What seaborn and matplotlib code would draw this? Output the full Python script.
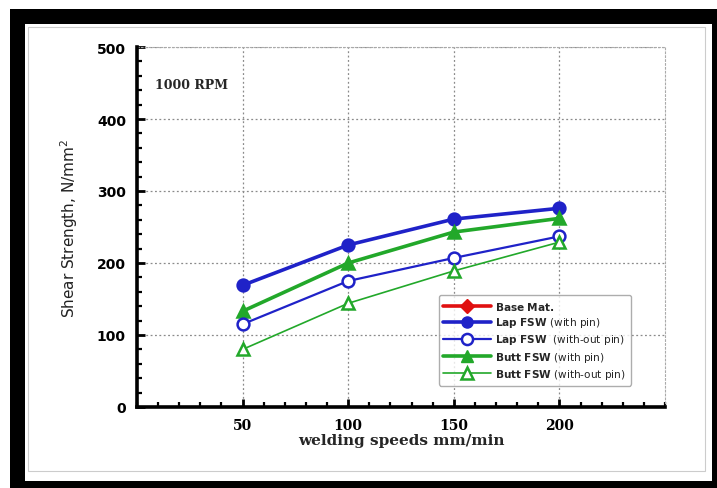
import matplotlib
matplotlib.use("Agg")
import matplotlib.pyplot as plt
from matplotlib.patches import Rectangle
from matplotlib.lines import Line2D
from matplotlib.ticker import MultipleLocator
import seaborn as sns
import pandas as pd

speeds = [50, 100, 150, 200]
lap_with_pin = [169, 225, 261, 276]
lap_without_pin = [115, 175, 207, 237]
butt_with_pin = [133, 200, 243, 262]
butt_without_pin = [80, 144, 189, 229]
x_ticks = [50, 100, 150, 200]
y_ticks = [0, 100, 200, 300, 400, 500]

sns.set_theme(style="white")
plt.rcParams['font.family'] = ['DejaVu Sans']

fig = plt.figure(figsize=(7.17, 4.89), dpi=100)
fig.patch.set_facecolor("white")
W, H = 717, 489
# black picture frame
fig.add_artist(Rectangle((10 / W, 0), 1 - 10 / W, 1 - 10 / H, transform=fig.transFigure,
                         facecolor="black", edgecolor="none", zorder=-5))
fig.add_artist(Rectangle((25 / W, 7 / H), (712 - 25) / W, (482 - 25) / H, transform=fig.transFigure,
                         facecolor="white", edgecolor="none", zorder=-4))
fig.add_artist(Rectangle((28 / W, 17 / H), (705 - 28) / W, (472 - 28) / H, transform=fig.transFigure,
                         facecolor="none", edgecolor="#cccccc", lw=0.8, zorder=-3))

ax = fig.add_axes([137 / W, 1 - 408 / H, (665 - 137) / W, (408 - 48) / H])
ax.set_facecolor("white")

blue = "#1f22c8"
green = "#22a82a"

series = [
    (lap_with_pin, blue, "o", blue, 2.6, 8.5),
    (butt_with_pin, green, "^", green, 2.6, 8.5),
    (lap_without_pin, blue, "o", "white", 1.6, 8.5),
    (butt_without_pin, green, "^", "white", 1.2, 8.5),
]
for vals, col, mk, fc, lw, ms in series:
    df = pd.DataFrame({"speed": speeds, "strength": vals})
    sns.lineplot(data=df, x="speed", y="strength", ax=ax, color=col, lw=lw,
                 marker=mk, markersize=ms, markerfacecolor=fc,
                 markeredgecolor=col, markeredgewidth=1.8, zorder=3)

ax.set_xlim(0, 250)
ax.set_ylim(0, 500)
ax.set_xticks(x_ticks)
ax.set_yticks(y_ticks)
ax.xaxis.set_minor_locator(MultipleLocator(10))
ax.yaxis.set_minor_locator(MultipleLocator(20))
ax.tick_params(axis="both", which="both", bottom=True, left=True, top=False, right=False)
ax.tick_params(axis="both", which="major", direction="in", length=6, width=2,
               labelsize=10, colors="black", pad=8)
ax.tick_params(axis="both", which="minor", direction="in", length=3.5, width=1.6, color="black")
for lab in ax.get_xticklabels() + ax.get_yticklabels():
    lab.set_fontweight("bold")
for lab in ax.get_xticklabels():
    lab.set_family("serif")

ax.grid(True, which="major", linestyle=(0, (1.5, 2)), color="#8a8a8a", lw=0.9)
ax.set_axisbelow(True)
for s in ["left", "bottom"]:
    ax.spines[s].set_linewidth(2.6)
    ax.spines[s].set_color("black")
    ax.spines[s].set_zorder(4)
for s in ["top", "right"]:
    ax.spines[s].set_linewidth(0.8)
    ax.spines[s].set_color("#aaaaaa")
    ax.spines[s].set_linestyle((0, (1.5, 2)))

ax.set_xlabel("welding speeds mm/min", fontsize=11, fontweight="bold",
              family="serif", labelpad=1)
ax.set_ylabel("Shear Strength, N/mm$^{2}$", fontsize=11, labelpad=12, color="#222222")

ax.text(0.034, 0.895, "1000 RPM", transform=ax.transAxes, fontsize=9,
        fontweight="bold", family="serif", va="center")

handles = [
    Line2D([], [], color="#e01010", lw=2.6, marker="D", markersize=7, markerfacecolor="#e01010"),
    Line2D([], [], color=blue, lw=2.6, marker="o", markersize=8, markerfacecolor=blue),
    Line2D([], [], color=blue, lw=1.6, marker="o", markersize=8, markerfacecolor="white", markeredgewidth=1.8),
    Line2D([], [], color=green, lw=2.6, marker="^", markersize=8, markerfacecolor=green),
    Line2D([], [], color=green, lw=1.2, marker="^", markersize=8, markerfacecolor="white", markeredgewidth=1.8),
]
labels = [
    r"$\bf{Base\ Mat.}$",
    r"$\bf{Lap\ FSW}$ (with pin)",
    r"$\bf{Lap\ FSW}$  (with-out pin)",
    r"$\bf{Butt\ FSW}$ (with pin)",
    r"$\bf{Butt\ FSW}$ (with-out pin)",
]
leg = ax.legend(handles, labels, loc="lower right", bbox_to_anchor=(0.945, 0.045),
                fontsize=7.6, frameon=True, handlelength=4.5, labelspacing=0.3,
                borderpad=0.45, handletextpad=0.4)
leg.get_frame().set_edgecolor("#999999")
leg.get_frame().set_linewidth(1.0)

fig.savefig("out.png", dpi=100, facecolor="white")
